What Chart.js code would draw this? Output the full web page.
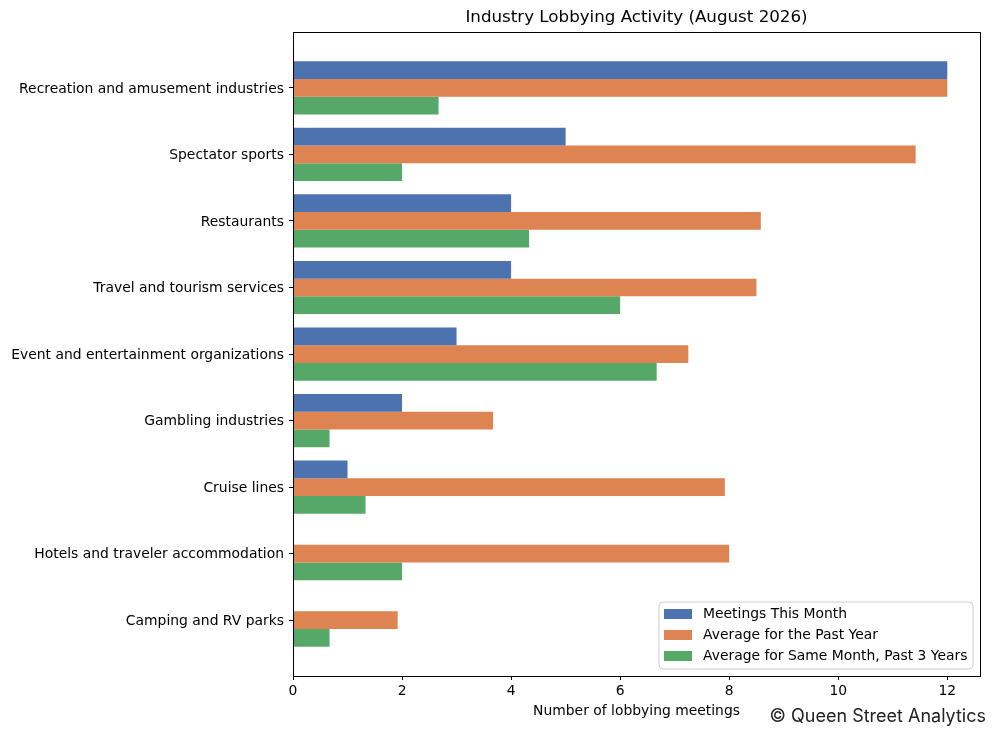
<!DOCTYPE html>
<html>
<head>
<meta charset="utf-8">
<script src="https://cdn.jsdelivr.net/npm/chart.js@4.4.1/dist/chart.umd.min.js"></script>
<style>
  html, body { margin: 0; padding: 0; background: #ffffff; }
  #wrap { width: 996px; height: 736px; }
</style>
</head>
<body>
<div id="wrap"><canvas id="c" width="996" height="736"></canvas></div>
<script>
const categories = [
  "Recreation and amusement industries",
  "Spectator sports",
  "Restaurants",
  "Travel and tourism services",
  "Event and entertainment organizations",
  "Gambling industries",
  "Cruise lines",
  "Hotels and traveler accommodation",
  "Camping and RV parks"
];
const meetingsThisMonth = [12, 5, 4, 4, 3, 2, 1, 0, 0];
const avgPastYear = [12, 11.42, 8.58, 8.5, 7.25, 3.67, 7.92, 8, 1.92];
const avgSameMonth3Yr = [2.67, 2, 4.33, 6, 6.67, 0.67, 1.33, 2, 0.67];
const seriesNames = ["Meetings This Month", "Average for the Past Year", "Average for Same Month, Past 3 Years"];
const xTicks = [0, 2, 4, 6, 8, 10, 12];
const titleText = "Industry Lobbying Activity (August 2026)";
const xTitleText = "Number of lobbying meetings";
const creditText = "\u00A9 Queen Street Analytics";

const colors = ["#4c72b0", "#dd8452", "#55a868"];
const FONT = "'DejaVu Sans', sans-serif";

const toPoints = (arr) => arr.map((v, i) => ({ x: v, y: i }));

const framePlugin = {
  id: 'frame',
  afterDatasetsDraw(chart) {
    const { ctx, chartArea: a } = chart;
    ctx.save();
    ctx.strokeStyle = '#000';
    ctx.lineWidth = 1;
    ctx.strokeRect(Math.round(a.left) + 0.5, Math.round(a.top) + 0.5,
                   Math.round(a.right - a.left), Math.round(a.bottom - a.top));
    ctx.restore();
  },
  afterDraw(chart) {
    const { ctx } = chart;
    // legend
    const lx = 659, ly = 602, lw = 314, lh = 67, r = 4;
    ctx.save();
    ctx.beginPath();
    ctx.moveTo(lx + r, ly);
    ctx.lineTo(lx + lw - r, ly);
    ctx.quadraticCurveTo(lx + lw, ly, lx + lw, ly + r);
    ctx.lineTo(lx + lw, ly + lh - r);
    ctx.quadraticCurveTo(lx + lw, ly + lh, lx + lw - r, ly + lh);
    ctx.lineTo(lx + r, ly + lh);
    ctx.quadraticCurveTo(lx, ly + lh, lx, ly + lh - r);
    ctx.lineTo(lx, ly + r);
    ctx.quadraticCurveTo(lx, ly, lx + r, ly);
    ctx.closePath();
    ctx.fillStyle = 'rgba(255,255,255,0.8)';
    ctx.fill();
    ctx.strokeStyle = '#cccccc';
    ctx.lineWidth = 1;
    ctx.stroke();
    ctx.font = "13.9px " + FONT;
    ctx.textBaseline = 'middle';
    ctx.textAlign = 'left';
    chart.data.datasets.forEach((ds, i) => {
      const cy = 614 + i * 21;
      ctx.fillStyle = ds.backgroundColor;
      ctx.fillRect(664, cy - 5, 28, 10);
      ctx.fillStyle = '#000';
      ctx.fillText(ds.label, 703, cy);
    });
    // credit
    ctx.font = "18px Inter, 'DejaVu Sans', sans-serif";
    ctx.fillStyle = '#222';
    ctx.textAlign = 'right';
    ctx.textBaseline = 'middle';
    ctx.fillText(creditText, 986, 717);
    ctx.restore();
  }
};

new Chart(document.getElementById('c'), {
  type: 'bar',
  data: {
    datasets: [
      { label: seriesNames[0], data: toPoints(meetingsThisMonth), backgroundColor: colors[0] },
      { label: seriesNames[1], data: toPoints(avgPastYear), backgroundColor: colors[1] },
      { label: seriesNames[2], data: toPoints(avgSameMonth3Yr), backgroundColor: colors[2] }
    ]
  },
  plugins: [framePlugin],
  options: {
    indexAxis: 'y',
    responsive: false,
    animation: false,
    devicePixelRatio: 1,
    categoryPercentage: 0.8,
    barPercentage: 1.0,
    layout: { padding: { left: 0, right: 16, top: 0, bottom: 0 } },
    plugins: {
      legend: { display: false },
      tooltip: { enabled: false },
      title: {
        display: true,
        text: titleText,
        fullSize: false,
        color: '#000',
        font: { family: FONT, size: 16.7, weight: 'normal' },
        padding: { top: 8, bottom: 4 }
      }
    },
    scales: {
      x: {
        type: 'linear',
        position: 'bottom',
        min: 0,
        max: 12.6,
        offset: false,
        afterBuildTicks: (axis) => { axis.ticks = xTicks.map(v => ({ value: v })); },
        afterFit: (axis) => { axis.height = 60; },
        border: { display: false },
        grid: { offset: false, drawOnChartArea: false, drawTicks: true, tickLength: 4, color: '#000', lineWidth: 1 },
        ticks: { color: '#000', font: { family: FONT, size: 13.9 }, padding: 3, maxRotation: 0 },
        title: {
          display: true,
          text: xTitleText,
          color: '#000',
          font: { family: FONT, size: 13.9 },
          padding: { top: 0, bottom: 16 }
        }
      },
      y: {
        type: 'linear',
        position: 'left',
        reverse: true,
        min: -0.84,
        max: 8.84,
        offset: false,
        afterBuildTicks: (axis) => { axis.ticks = categories.map((c, i) => ({ value: i })); },
        afterFit: (axis) => { axis.width = 293; },
        border: { display: false },
        grid: { offset: false, drawOnChartArea: false, drawTicks: true, tickLength: 4, color: '#000', lineWidth: 1 },
        ticks: {
          color: '#000',
          font: { family: FONT, size: 13.9 },
          padding: 5,
          labelOffset: 1,
          autoSkip: false,
          callback: (v) => categories[v] !== undefined ? categories[v] : ''
        }
      }
    }
  }
});
</script>
</body>
</html>
